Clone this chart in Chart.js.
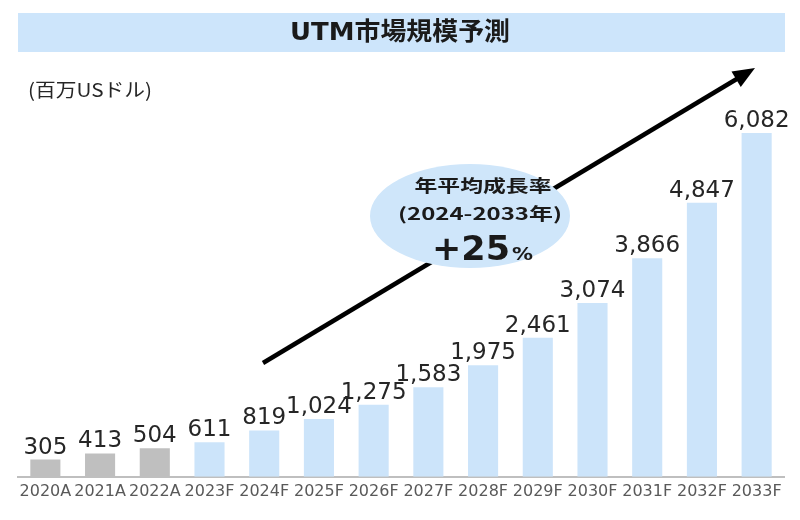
<!DOCTYPE html>
<html>
<head>
<meta charset="utf-8">
<script src="https://cdn.jsdelivr.net/npm/chart.js@4"></script>
<style>
  body { margin: 0; background: #fff; }
  #wrap { width: 800px; height: 520px; }
</style>
</head>
<body>
<div id="wrap"><canvas id="myChart"></canvas></div>
<script>
const years = ['2020A', '2021A', '2022A', '2023F', '2024F', '2025F', '2026F',
  '2027F', '2028F', '2029F', '2030F', '2031F', '2032F', '2033F']
const market = [305, 413, 504, 611, 819, 1024, 1275, 1583, 1975, 2461, 3074, 3866, 4847, 6082]
const isActual = [true, true, true, false, false, false, false, false, false, false, false, false, false, false]

const titleText = 'UTM市場規模予測'
const unitText = '(百万USドル)'
const cagrLines = ['年平均成長率', '(2024-2033年)']
const cagrValue = '+25'

// draws text squeezed/stretched to a given width (the source art is wide)
function wideText(ctx, text, x, y, width, align) {
  const w = ctx.measureText(text).width
  const s = width / w
  ctx.save()
  ctx.translate(x, y)
  ctx.scale(s, 1)
  ctx.textAlign = align
  ctx.fillText(text, 0, 0)
  ctx.restore()
}

const decor = {
  id: 'decor',
  beforeDraw(chart) {
    const ctx = chart.ctx
    ctx.save()
    ctx.fillStyle = '#cde5fb'
    ctx.fillRect(18, 13, 767, 39)
    ctx.fillStyle = '#1a1a1a'
    ctx.textBaseline = 'middle'
    ctx.font = 'bold 25px "DejaVu Sans", "Noto Sans CJK JP"'
    wideText(ctx, titleText, 400, 33, 220, 'center')
    ctx.fillStyle = '#262626'
    ctx.font = '19px "Noto Sans CJK JP"'
    wideText(ctx, unitText, 28, 90, 124, 'left')
    ctx.restore()
  },
  afterDatasetsDraw(chart) {
    const ctx = chart.ctx
    const meta = chart.getDatasetMeta(0)
    ctx.save()
    ctx.fillStyle = '#262626'
    ctx.font = '23px "DejaVu Sans"'
    ctx.textAlign = 'center'
    ctx.textBaseline = 'alphabetic'
    meta.data.forEach((bar, i) => {
      ctx.fillText(market[i].toLocaleString('en-US'), bar.x, bar.y - 6)
    })

    // trend arrow
    const x0 = 263, y0 = 363, x1 = 755, y1 = 68
    const ang = Math.atan2(y1 - y0, x1 - x0)
    ctx.strokeStyle = '#000'
    ctx.lineWidth = 4.5
    ctx.beginPath()
    ctx.moveTo(x0, y0)
    ctx.lineTo(x1 - 14 * Math.cos(ang), y1 - 14 * Math.sin(ang))
    ctx.stroke()
    ctx.fillStyle = '#000'
    ctx.beginPath()
    ctx.moveTo(x1, y1)
    ctx.lineTo(x1 - 22 * Math.cos(ang) + 9 * Math.sin(ang), y1 - 22 * Math.sin(ang) - 9 * Math.cos(ang))
    ctx.lineTo(x1 - 22 * Math.cos(ang) - 9 * Math.sin(ang), y1 - 22 * Math.sin(ang) + 9 * Math.cos(ang))
    ctx.closePath()
    ctx.fill()

    // CAGR bubble
    ctx.fillStyle = '#cfe6fa'
    ctx.beginPath()
    ctx.ellipse(470, 216, 100, 52, 0, 0, Math.PI * 2)
    ctx.fill()
    ctx.fillStyle = '#1a1a1a'
    ctx.textBaseline = 'middle'
    ctx.font = 'bold 17px "Noto Sans CJK JP"'
    wideText(ctx, cagrLines[0], 483, 186, 137, 'center')
    wideText(ctx, cagrLines[1], 480, 214, 164, 'center')
    ctx.textBaseline = 'alphabetic'
    ctx.font = 'bold 34px "DejaVu Sans"'
    wideText(ctx, cagrValue, 432, 260, 78, 'left')
    ctx.font = 'bold 18px "DejaVu Sans"'
    wideText(ctx, '%', 512, 260, 21, 'left')
    ctx.restore()
  }
}

const ctx = document.getElementById('myChart')
const myChart = new Chart(ctx, {
  type: 'bar',
  data: {
    labels: years,
    datasets: [{
      label: 'UTM',
      data: market,
      backgroundColor: isActual.map(a => a ? '#bfbfbf' : '#cce4fa'),
      barPercentage: 0.55,
      categoryPercentage: 1
    }]
  },
  options: {
    responsive: true,
    maintainAspectRatio: false,
    animation: false,
    layout: { padding: { left: 18, right: 16, top: 81, bottom: 14 } },
    plugins: { legend: { display: false }, tooltip: { enabled: false } },
    scales: {
      x: {
        grid: { display: false, drawTicks: false },
        border: { display: true, color: '#bfbfbf', width: 2 },
        ticks: { color: '#595959', font: { family: '"DejaVu Sans"', size: 16 }, padding: 5, maxRotation: 0, autoSkip: false }
      },
      y: { display: false, min: 0, max: 7000 }
    }
  },
  plugins: [decor]
})
</script>
</body>
</html>
